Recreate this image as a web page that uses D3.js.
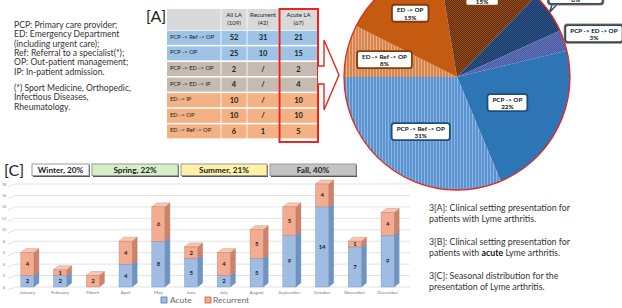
<!DOCTYPE html>
<html><head><meta charset="utf-8">
<script src="https://cdn.jsdelivr.net/npm/d3@7"></script>
<style>
html,body{margin:0;padding:0;background:#fff;}
svg{display:block;font-family:Lato,"Open Sans",sans-serif;}
</style></head>
<body>
<script>
// ---------- DATA ----------
const defLines = ["PCP: Primary care provider;","ED: Emergency Department","(including urgent care);","Ref: Referral to a specialist(*);","OP: Out-patient management;","IP: In-patient admission."];
const noteLines = ["(*) Sport Medicine,  Orthopedic,","Infectious Diseases,","Rheumatology."];
const tableHeaders = [["",""],["All LA","(109)"],["Recurrent","(42)"],["Acute LA","(67)"]];
const pathways = ["PCP -> Ref -> OP","PCP -> OP","PCP -> ED -> OP","PCP -> ED -> IP","ED -> IP","ED -> OP","ED -> Ref -> OP"];
const allLA = ["52","25","2","4","10","10","6"];
const recurrentLA = ["31","10","/","/","/","/","1"];
const acuteLA = [21,15,2,4,10,10,5];
const acutePct = ["31%","22%","3%","6%","15%","15%","8%"];
const pieOrder = [6,5,4,3,2,1,0]; // clockwise from 9 o'clock
const months = ["January","February","March","April","May","June","July","August","September","October","November","December"];
const acuteByMonth = [2,2,0,4,8,5,2,5,9,14,7,9];
const recurrentByMonth = [4,1,2,4,6,2,4,5,5,4,1,4];
const yTicks = [0,2,4,6,8,10,12,14,16,18];
const seasons = ["Winter, 20%","Spring, 22%","Summer, 21%","Fall, 40%"];
const captions = [
  [["3[A]: Clinical setting presentation for",false]],[["patients with Lyme arthritis.",false]],
  null,
  [["3[B]: Clinical setting presentation for",false]],[["patients with ",false],["acute",true],[" Lyme arthritis.",false]],
  null,
  [["3[C]: Seasonal distribution for the",false]],[["presentation of Lyme arthritis.",false]]
];

// ---------- SVG ----------
const W=622,H=308;
const svg=d3.select("body").append("svg").attr("width",W).attr("height",H);
const defs=svg.append("defs");
function stripePat(id,base,line){
  const p=defs.append("pattern").attr("id",id).attr("width",3).attr("height",3).attr("patternUnits","userSpaceOnUse");
  p.append("rect").attr("width",3).attr("height",3).attr("fill",base);
  p.append("rect").attr("width",1).attr("height",3).attr("fill",line);
}
function checkPat(id,a,b){
  const p=defs.append("pattern").attr("id",id).attr("width",2).attr("height",2).attr("patternUnits","userSpaceOnUse");
  p.append("rect").attr("width",2).attr("height",2).attr("fill",a);
  p.append("rect").attr("width",1).attr("height",1).attr("fill",b);
  p.append("rect").attr("x",1).attr("y",1).attr("width",1).attr("height",1).attr("fill",b);
}
function hstripePat(id,a,b){
  const p=defs.append("pattern").attr("id",id).attr("width",3).attr("height",3).attr("patternUnits","userSpaceOnUse");
  p.append("rect").attr("width",3).attr("height",3).attr("fill",a);
  p.append("rect").attr("width",3).attr("height",1).attr("fill",b);
}
stripePat("pRefBlue","#5a93cf","#8db6e2");
stripePat("pRefOrange","#d5854c","#eab089");
checkPat("pEDOP","#4757a0","#6675bb");
checkPat("pEDIP","#1a3660","#2e5a90");
checkPat("pEDIPbrown","#5e2a0b","#9a501c");
hstripePat("pGrayRow","#bdbdbd","#d8b69c");

// ---------- Left definitions ----------
const tg=svg.append("g").attr("font-size",8.6).attr("fill","#333");
defLines.forEach((t,i)=>tg.append("text").attr("x",14).attr("y",28+i*9.3).text(t));
noteLines.forEach((t,i)=>tg.append("text").attr("x",14).attr("y",91+i*9.3).text(t));

svg.append("text").attr("x",146).attr("y",22).attr("font-size",16).attr("fill","#222").text("[A]");
svg.append("text").attr("x",4).attr("y",176).attr("font-size",16).attr("fill","#222").text("[C]");

// ---------- Table ----------
const colX=[167,221,247,279,318];
const headTop=9, headBot=30, rowH=15.6;
const rowFill=i=> i<2?"#9dc3e6": (i<4?"url(#pGrayRow)":"#f4b183");
const tab=svg.append("g");
tab.append("rect").attr("x",colX[0]).attr("y",headTop).attr("width",colX[4]-colX[0]).attr("height",headBot-headTop).attr("fill","#d9d9d9");
tableHeaders.forEach((h,c)=>{
  if(c===0) return;
  const cx=(colX[c]+colX[c+1])/2;
  h.forEach((l,k)=>tab.append("text").attr("x",cx).attr("y",headTop+8+k*8).attr("text-anchor","middle").attr("font-size",6).attr("fill","#222").text(l));
});
pathways.forEach((p,i)=>{
  const y=headBot+i*rowH+0.8;
  tab.append("rect").attr("x",colX[0]).attr("y",y).attr("width",colX[4]-colX[0]).attr("height",rowH-1.6).attr("fill",rowFill(i));
  tab.append("text").attr("x",colX[0]+3).attr("y",y+8).attr("font-size",5.8).attr("fill","#222").text(p);
  [allLA[i],recurrentLA[i],String(acuteLA[i])].forEach((v,c)=>{
    tab.append("text").attr("x",(colX[c+1]+colX[c+2])/2).attr("y",y+9.5).attr("text-anchor","middle")
      .attr("font-size",7.5).attr("font-weight","bold").attr("fill","#222").text(v);
  });
});
for(let c=1;c<4;c++) tab.append("line").attr("x1",colX[c]).attr("x2",colX[c]).attr("y1",headTop).attr("y2",headBot+rowH*7).attr("stroke","#fff").attr("stroke-width",0.8);
tab.append("rect").attr("x",279.5).attr("y",9).attr("width",38.5).attr("height",133).attr("fill","none").attr("stroke","#e8261f").attr("stroke-width",2);
// arrow
svg.append("path").attr("d","M318,66 L324,66 L324,40 L339,75 L324,110 L324,84 L318,84")
  .attr("fill","#fff").attr("stroke","#e8261f").attr("stroke-width",1.4);

// ---------- Pie ----------
const pcx=457,pcy=77,R=113;
const pieData=pieOrder.map(i=>({i,v:acuteLA[i]}));
const fills={0:"url(#pRefBlue)",1:"#2e75b6",2:"url(#pEDOP)",3:"url(#pEDIP)",4:"url(#pEDIPbrown)",5:"#c55a11",6:"url(#pRefOrange)"};
const arcs=d3.pie().sort(null).value(d=>d.v).startAngle(-Math.PI/2).endAngle(Math.PI*1.5)(pieData);
const arc=d3.arc().innerRadius(0).outerRadius(R);
const pg=svg.append("g").attr("transform",`translate(${pcx},${pcy})`);
pg.selectAll("path.sl").data(arcs).join("path").attr("class","sl").attr("d",arc).attr("fill",d=>fills[d.data.i]);
pg.append("circle").attr("r",R).attr("fill","none").attr("stroke","#e8261f").attr("stroke-width",1.3);
// labels
const labelRatio={0:0.58,1:0.5,4:0.74,5:0.7,6:0.66};
const outside={3:[26,-17],2:[30,-7]};
arcs.forEach(d=>{
  const i=d.data.i;
  const isPCP=i<4;
  const stroke=isPCP?"#1f4e79":"#843c0c";
  let cx,cy,anchor=null;
  if(outside[i]){
    const a=(d.startAngle+d.endAngle)/2;
    anchor=[Math.sin(a)*R,-Math.cos(a)*R];
    cx=anchor[0]+outside[i][0]; cy=anchor[1]+outside[i][1];
  } else {
    const rr=R*labelRatio[i];
    const c=d3.arc().innerRadius(rr).outerRadius(rr).centroid(d);
    cx=c[0];cy=c[1];
  }
  const g=pg.append("g");
  const t1=g.append("text").attr("x",cx).attr("y",cy-1).attr("text-anchor","middle").attr("font-size",6.3).attr("font-weight","bold").attr("fill","#111").text(pathways[i]);
  const t2=g.append("text").attr("x",cx).attr("y",cy+6.5).attr("text-anchor","middle").attr("font-size",6.3).attr("font-weight","bold").attr("fill","#111").text(acutePct[i]);
  const w=Math.max(t1.node().getComputedTextLength(),t2.node().getComputedTextLength())+10;
  const h=17;
  if(anchor){
    g.insert("path","text").attr("d",`M${cx-w/2+4},${cy+h/2-1} L${anchor[0]},${anchor[1]} L${cx-w/2+10},${cy+h/2-1}`)
      .attr("fill","#fff").attr("stroke","#1f4e79").attr("stroke-width",1.5);
    g.insert("rect","text").attr("x",cx-w/2-1).attr("y",cy-h/2-1).attr("width",w+2).attr("height",h+2).attr("rx",3).attr("fill","#fff").attr("stroke","#d0701f").attr("stroke-width",1.2);
  }
  g.insert("rect","text").attr("x",cx-w/2).attr("y",cy-h/2).attr("width",w).attr("height",h).attr("rx",2.5).attr("fill","#fff").attr("stroke",stroke).attr("stroke-width",1.8);
});

// ---------- Season boxes ----------
const seasonX=[[32,89],[92,178],[181,267],[270,356]];
const seasonFill=["#ffffff","#d6efc6","#fff2a6","#c4c4c4"];
seasons.forEach((s,i)=>{
  const [a,b]=seasonX[i];
  svg.append("rect").attr("x",a+1).attr("y",165).attr("width",b-a).attr("height",12).attr("fill","#555");
  svg.append("rect").attr("x",a).attr("y",164).attr("width",b-a).attr("height",11.5).attr("fill",seasonFill[i]).attr("stroke","#9a9a9a").attr("stroke-width",1);
  svg.append("text").attr("x",(a+b)/2).attr("y",173).attr("text-anchor","middle").attr("font-size",8.2).attr("font-weight","bold").attr("fill","#222").text(s);
});

// ---------- Bar chart ----------
const y=d3.scaleLinear().domain([0,18]).range([287,184]);
const x=d3.scaleBand().domain(months).range([11,404]).paddingInner(0.6).paddingOuter(0.3);
const bg=svg.append("g");
yTicks.forEach(t=>{
  const yy=y(t);
  bg.append("path").attr("d",`M8,${yy+3} L15,${yy} L410,${yy}`).attr("fill","none").attr("stroke","#dcdcdc").attr("stroke-width",0.8);
  bg.append("text").attr("x",4).attr("y",yy+1.5).attr("text-anchor","middle").attr("font-size",4).attr("fill","#888").text(t);
});
const dx=5,dy=4;
function seg(x0,w,yTop,yBot,c){
  bg.append("path").attr("d",`M${x0+w},${yBot} L${x0+w+dx},${yBot-dy} L${x0+w+dx},${yTop-dy} L${x0+w},${yTop}Z`).attr("fill",c.side).attr("stroke",c.edge).attr("stroke-width",0.4);
  bg.append("path").attr("d",`M${x0},${yTop} L${x0+dx},${yTop-dy} L${x0+w+dx},${yTop-dy} L${x0+w},${yTop}Z`).attr("fill",c.top).attr("stroke",c.edge).attr("stroke-width",0.4);
  bg.append("rect").attr("x",x0).attr("y",yTop).attr("width",w).attr("height",yBot-yTop).attr("fill",c.front).attr("stroke",c.edge).attr("stroke-width",0.4);
}
const cA={front:"#9fbde2",side:"#7193bf",top:"#c3d6ee",edge:"#6f8fb8"};
const cR={front:"#f3ac92",side:"#c9846b",top:"#f8c7b2",edge:"#c07a60"};
months.forEach((m,i)=>{
  const x0=x(m),w=x.bandwidth();
  const a=acuteByMonth[i],r=recurrentByMonth[i];
  if(a>0){ seg(x0,w,y(a),y(0),cA); }
  if(r>0){ seg(x0,w,y(a+r),y(a),cR); }
  if(a>0) bg.append("text").attr("x",x0+w/2).attr("y",(y(a)+y(0))/2+2).attr("text-anchor","middle").attr("font-size",6).attr("font-weight","bold").attr("fill","#222").text(a);
  if(r>0) bg.append("text").attr("x",x0+w/2).attr("y",(y(a+r)+y(a))/2+2).attr("text-anchor","middle").attr("font-size",6).attr("font-weight","bold").attr("fill","#222").text(r);
  bg.append("text").attr("x",x0+w/2).attr("y",294).attr("text-anchor","middle").attr("font-size",4.6).attr("fill","#777").text(m);
});
// legend
svg.append("rect").attr("x",161).attr("y",297).attr("width",6).attr("height",6).attr("fill","#9fbde2").attr("stroke","#4a76b0").attr("stroke-width",0.8);
svg.append("text").attr("x",170).attr("y",303).attr("font-size",8.4).attr("fill","#666").text("Acute");
svg.append("rect").attr("x",205).attr("y",297).attr("width",6).attr("height",6).attr("fill","#f3ac92").attr("stroke","#c0603a").attr("stroke-width",0.8);
svg.append("text").attr("x",213).attr("y",303).attr("font-size",8.4).attr("fill","#666").text("Recurrent");

// ---------- Captions ----------
const cg=svg.append("g").attr("font-size",8.8).attr("fill","#333");
captions.forEach((line,i)=>{
  if(!line) return;
  const t=cg.append("text").attr("x",429).attr("y",211+i*11.3);
  line.forEach(([s,b])=>t.append("tspan").attr("font-weight",b?"bold":null).attr("fill",b?"#111":null).text(s));
});
</script>
</body></html>
